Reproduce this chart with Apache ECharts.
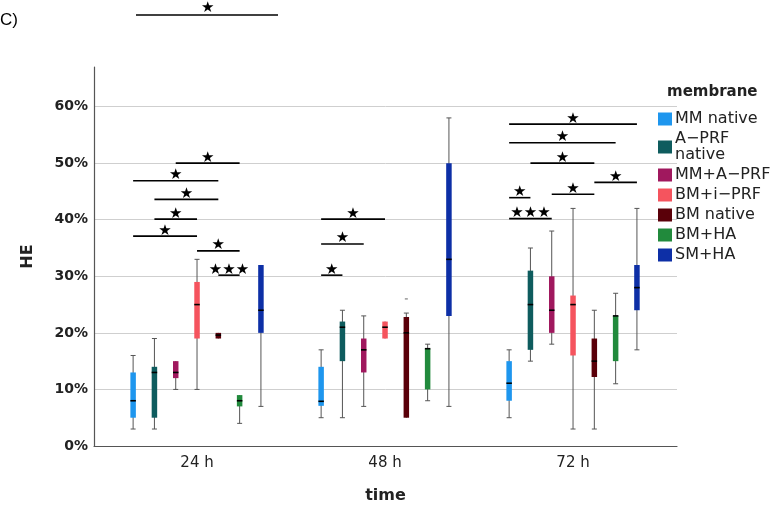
<!DOCTYPE html>
<html>
<head>
<meta charset="utf-8">
<script src="https://cdn.jsdelivr.net/npm/echarts@6/dist/echarts.min.js"></script>
<style>html,body{margin:0;padding:0;background:#fff}#c{width:774px;height:505px}</style>
</head>
<body>
<div id="c"></div>
<script>
// ---- data ----
const timePoints = ['24 h', '48 h', '72 h'];
const membranes = ['MM native', 'A−PRF native', 'MM+A−PRF', 'BM+i−PRF', 'BM native', 'BM+HA', 'SM+HA'];
const membraneColors = ['#1e96ee', '#0e5c5e', '#a0185e', '#f5545e', '#5a0009', '#218a3c', '#0d2fa6'];

// each row: [whisker low, Q1, median, Q3, whisker high] (HE %) for 24 h, 48 h, 72 h
const mmNative   = [[3, 5, 8, 13, 16],   [5, 7.1, 7.9, 14, 17],  [5, 8, 11.1, 15, 17]];
const aprfNative = [[3, 5, 13, 14, 19],  [5, 15, 21, 22, 24],    [15, 17, 25, 31, 35]];
const mmAprf     = [[10, 12, 13, 15, 15],[7, 13, 17, 19, 23],    [18, 20, 24, 30, 38]];
const bmIprf     = [[10, 19, 25, 29, 33],[19, 19, 21, 22, 22],   [3, 16, 25, 26.6, 42]];
const bmNative   = [[19, 19, 19.6, 20, 20],[5, 5, 20, 22.8, 23.5],[3, 12.2, 15, 19, 24]];
const bmHa       = [[4, 7, 8, 9, 9],     [8, 10, 17.2, 17.2, 18],[11, 15, 23, 23, 27]];
const smHa       = [[7, 20, 24, 32, 32], [7, 23, 33, 50, 58],    [17, 24, 28, 32, 42]];
const boxData = [mmNative, aprfNative, mmAprf, bmIprf, bmNative, bmHa, smHa];

// outliers: [time index, membrane index, HE %]
const outliers = [[1, 4, 26]];

// significance brackets: [time index, from membrane, to membrane, HE level %, number of stars]
const brackets = [
  [0, 2, 5, 50.0, 1], [0, 0, 4, 46.9, 1], [0, 1, 4, 43.6, 1], [0, 1, 3, 40.1, 1],
  [0, 0, 3, 37.1, 1], [0, 3, 5, 34.5, 1], [0, 4, 5, 30.2, 3],
  [1, 0, 3, 40.1, 1], [1, 0, 2, 35.7, 1], [1, 0, 1, 30.2, 1],
  [2, 0, 6, 56.9, 1], [2, 0, 5, 53.6, 1], [2, 1, 4, 50.0, 1], [2, 4, 6, 46.6, 1],
  [2, 2, 4, 44.5, 1], [2, 0, 1, 43.9, 1], [2, 0, 2, 40.2, 3]
];
const yTickValues = [0, 10, 20, 30, 40, 50, 60];

// ---- layout / style ----
const FONT = 'DejaVu Sans';
const BOX_STEP = 0.1133;   // spacing of boxes within a time group (fraction of group spacing)
const BOX_W = 5.5;
const CAP_W = 5;

function memberX(api, g, m) {
  const unit = api.size([1, 0])[0];
  return api.coord([g, 0])[0] + (m - 3) * unit * BOX_STEP;
}

const boxSeries = membranes.map((name, m) => ({
  name: name,
  type: 'custom',
  itemStyle: { color: membraneColors[m] },
  encode: { x: 0, y: [1, 2, 3, 4, 5] },
  data: boxData[m].map((b, g) => [g].concat(b)),
  z: 3,
  renderItem: function (params, api) {
    const g = api.value(0);
    const cx = memberX(api, g, m);
    const y = i => api.coord([g, api.value(i)])[1];
    const yLo = y(1), yQ1 = y(2), yMed = y(3), yQ3 = y(4), yHi = y(5);
    const hw = BOX_W / 2;
    let top = yQ3, h = yQ1 - yQ3;
    if (h < 3) { top = (yQ1 + yQ3) / 2 - 1.5; h = 3; }
    const ws = { stroke: '#555', lineWidth: 1 };
    const children = [
      { type: 'line', shape: { x1: cx, y1: yHi, x2: cx, y2: yLo }, style: ws },
      { type: 'rect', shape: { x: cx - hw, y: top, width: BOX_W, height: h }, style: { fill: membraneColors[m] } },
      { type: 'line', shape: { x1: cx - hw, y1: yMed, x2: cx + hw, y2: yMed }, style: { stroke: '#000', lineWidth: 1.6 } }
    ];
    if (yHi < yQ3 - 0.5) children.push({ type: 'line', shape: { x1: cx - CAP_W / 2, y1: yHi, x2: cx + CAP_W / 2, y2: yHi }, style: ws });
    if (yLo > yQ1 + 0.5) children.push({ type: 'line', shape: { x1: cx - CAP_W / 2, y1: yLo, x2: cx + CAP_W / 2, y2: yLo }, style: ws });
    return { type: 'group', children: children };
  }
}));

const outlierSeries = {
  type: 'custom',
  name: 'outliers',
  encode: { x: 0, y: 2 },
  data: outliers,
  z: 3,
  renderItem: function (params, api) {
    const g = api.value(0), m = api.value(1);
    const cx = memberX(api, g, m);
    const yv = api.coord([g, api.value(2)])[1];
    return { type: 'line', shape: { x1: cx - 1.5, y1: yv, x2: cx + 1.5, y2: yv }, style: { stroke: '#666', lineWidth: 1 } };
  }
};

const bracketSeries = {
  type: 'custom',
  name: 'significance',
  encode: { x: 0, y: 3 },
  data: brackets,
  z: 5,
  clip: false,
  renderItem: function (params, api) {
    const g = api.value(0);
    const x1 = memberX(api, g, api.value(1));
    const x2 = memberX(api, g, api.value(2));
    const yy = api.coord([g, api.value(3)])[1];
    const n = api.value(4);
    return {
      type: 'group',
      children: [
        { type: 'line', shape: { x1: x1, y1: yy, x2: x2, y2: yy }, style: { stroke: '#000', lineWidth: 1.6 } },
        { type: 'text', style: { text: '★'.repeat(n), x: (x1 + x2) / 2, y: yy + 2, align: 'center', verticalAlign: 'bottom',
          fontSize: 15, fontFamily: FONT, fill: '#000' } }
      ]
    };
  }
};

const chart = echarts.init(document.getElementById('c'), null, { renderer: 'canvas' });
chart.setOption({
  animation: false,
  backgroundColor: '#fff',
  textStyle: { fontFamily: FONT },
  grid: { left: 94, right: 97, top: 67, bottom: 59, outerBoundsMode: 'none', containLabel: false },
  title: {
    text: 'membrane', left: 667, top: 85, padding: 0,
    textStyle: { fontSize: 15, fontWeight: 'bold', color: '#222', fontFamily: FONT }
  },
  legend: {
    orient: 'vertical', left: 658, top: 111, padding: 0,
    itemWidth: 14, itemHeight: 13, itemGap: 4, icon: 'rect', selectedMode: false,
    data: membranes,
    formatter: n => (n === 'A−PRF native' ? 'A−PRF\nnative' : n),
    textStyle: { fontSize: 16, lineHeight: 16, color: '#222', fontFamily: FONT, padding: [0, 0, 0, -2] }
  },
  xAxis: {
    type: 'value', min: -0.548, max: 2.553,
    name: 'time', nameLocation: 'middle', nameGap: 42,
    nameTextStyle: { fontSize: 16, fontWeight: 'bold', color: '#222', fontFamily: FONT },
    axisLine: { show: true, onZero: false, lineStyle: { color: '#555', width: 1.2 } },
    axisTick: { show: false },
    splitLine: { show: false },
    axisLabel: {
      customValues: [0, 1, 2], margin: 10,
      formatter: v => timePoints[Math.round(v)],
      fontSize: 15, color: '#222', fontFamily: FONT
    }
  },
  yAxis: {
    type: 'value', min: 0, max: 67, interval: 10,
    name: 'HE', nameLocation: 'middle', nameGap: 58, nameRotate: 90,
    nameTextStyle: { fontSize: 16, fontWeight: 'bold', color: '#222', fontFamily: FONT },
    axisLine: { show: true, onZero: false, lineStyle: { color: '#555', width: 1.2 } },
    axisTick: { show: false },
    axisLabel: {
      customValues: yTickValues,
      formatter: '{value}%', margin: 6, fontSize: 14, fontWeight: 'bold', color: '#222', fontFamily: FONT
    },
    splitLine: { show: true, showMaxLine: false, lineStyle: { color: '#cfcfcf', width: 1 } }
  },
  graphic: [
    { type: 'text', left: 0, top: 12, style: { text: 'C)', fontSize: 17, fontFamily: 'Liberation Sans', fill: '#000' } },
    { type: 'line', shape: { x1: 136, y1: 15, x2: 278, y2: 15 }, style: { stroke: '#000', lineWidth: 1.6 } },
    { type: 'text', x: 207.7, y: 16, style: { text: '★', align: 'center', verticalAlign: 'bottom', fontSize: 15, fontFamily: FONT, fill: '#000' } }
  ],
  series: boxSeries.concat([outlierSeries, bracketSeries])
});
</script>
</body>
</html>
